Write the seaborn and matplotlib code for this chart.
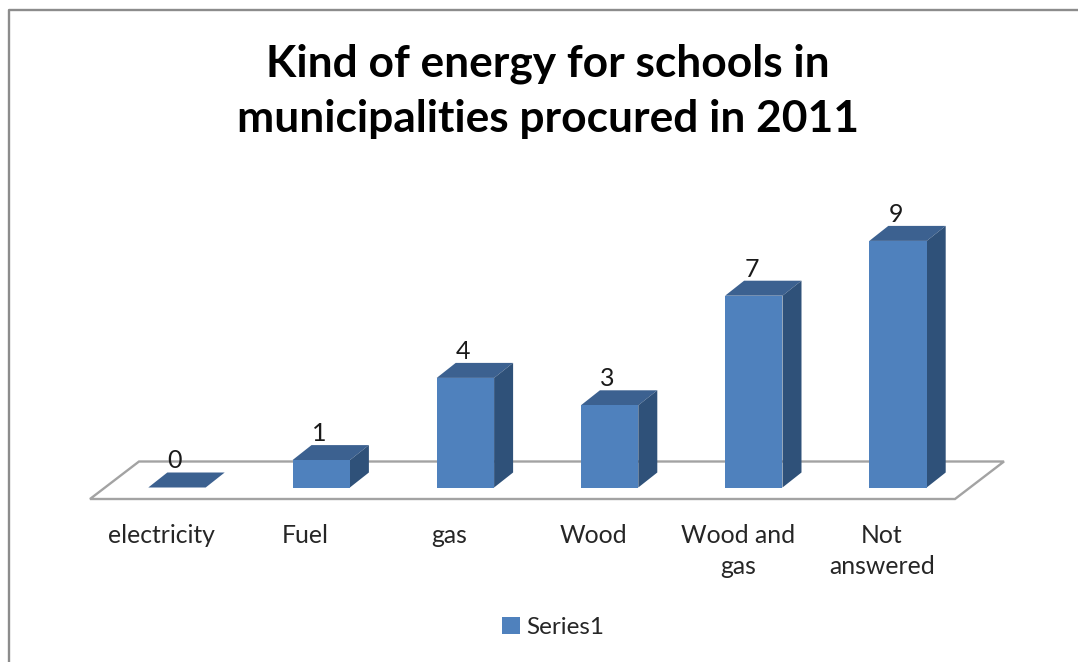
import matplotlib
matplotlib.use("Agg")
import matplotlib.pyplot as plt
import pandas as pd
import seaborn as sns
from matplotlib.patches import Polygon
from matplotlib.transforms import IdentityTransform, ScaledTranslation
from matplotlib.lines import Line2D

categories = ["electricity", "Fuel", "gas", "Wood", "Wood and\ngas", "Not\nanswered"]
values = [0, 1, 4, 3, 7, 9]
series_name = "Series1"
title_text = "Kind of energy for schools in\nmunicipalities procured in 2011"

FRONT, TOP, SIDE = "#4F81BD", "#3C6190", "#2F5179"
W, H = 1078, 662
sns.set_theme(style="white")
plt.rcParams["font.family"] = ["Lato", "DejaVu Sans"]

df = pd.DataFrame({"category": categories, "value": values, "series": series_name})

fig = plt.figure(figsize=(W / 100, H / 100), dpi=100, facecolor="white")
x_left, x_right, y_base, y_top = 104.9, 970.1, 487.5, 213.5
ax = fig.add_axes([x_left / W, 1 - y_base / H, (x_right - x_left) / W, (y_base - y_top) / H])
sns.barplot(data=df, x="category", y="value", hue="series", palette=[FRONT], width=0.398,
            dodge=False, ax=ax, saturation=1, edgecolor=FRONT, linewidth=0, zorder=4)
ax.set_ylim(0, 10)
ax.set_xlim(-0.5, 5.5)
ax.set_xlabel("")
ax.set_ylabel("")
ax.set_yticks([])
ax.patch.set_alpha(0)
sns.despine(ax=ax, left=True, bottom=True)

# Display-space helper (origin top-left, in pixels of the output image)
def P(x, y):
    return (x, H - y)

floor = [P(90, 499), P(139, 461.5), P(1004, 461.5), P(955, 499)]
ax.add_patch(Polygon(floor, closed=True, fc="white", ec="#A3A3A3", lw=1.7,
                     transform=IdentityTransform(), clip_on=False, zorder=1))

# 3-D faces derived from the bars that seaborn drew
fig.canvas.draw()
dx, dy = 19, 15
for bar, v in zip(ax.patches[:len(values)], values):
    (x0, y0), (x1, y1) = ax.transData.transform([(bar.get_x(), 0),
                                                 (bar.get_x() + bar.get_width(), v)])
    ax.add_patch(Polygon([(x0, y1), (x1, y1), (x1 + dx, y1 + dy), (x0 + dx, y1 + dy)],
                         fc=TOP, ec="none", transform=IdentityTransform(),
                         clip_on=False, zorder=3))
    if v > 0:
        ax.add_patch(Polygon([(x1, y0), (x1 + dx, y0 + dy), (x1 + dx, y1 + dy), (x1, y1)],
                             fc=SIDE, ec="none", transform=IdentityTransform(),
                             clip_on=False, zorder=3))
    ax.annotate(str(v), (bar.get_x() + bar.get_width() / 2, v), xytext=(-1.5, 19.2),
                textcoords="offset points", ha="center", va="center",
                fontsize=18, color="#1a1a1a", zorder=6, annotation_clip=False)

# Category labels
ax.tick_params(axis="x", length=0, pad=26.5)
shift = ScaledTranslation(-16 / 100, 0, fig.dpi_scale_trans)
for lab in ax.get_xticklabels():
    lab.set_fontsize(17.8)
    lab.set_color("#262626")
    lab.set_linespacing(1.42)
    lab.set_transform(lab.get_transform() + shift)

# Title
fig.text(548 / W, 1 - 91.5 / H, title_text, ha="center", va="center", fontsize=31.9,
         fontweight="bold", color="black", linespacing=1.46)

# Legend
leg = ax.legend(loc="center", bbox_to_anchor=(553 / W, 1 - 627.5 / H),
                bbox_transform=fig.transFigure, frameon=False, fontsize=17.5,
                handlelength=0.72, handleheight=0.72, handletextpad=0.25, labelcolor="#262626")

# Outer chart border, cut by the image edge
fig.add_artist(Line2D([8.5 / W, 8.5 / W, 1], [0, 1 - 9.5 / H, 1 - 9.5 / H],
                      color="#8C8C8C", lw=1.7, transform=fig.transFigure))

fig.savefig("out.png", dpi=100, facecolor="white")
